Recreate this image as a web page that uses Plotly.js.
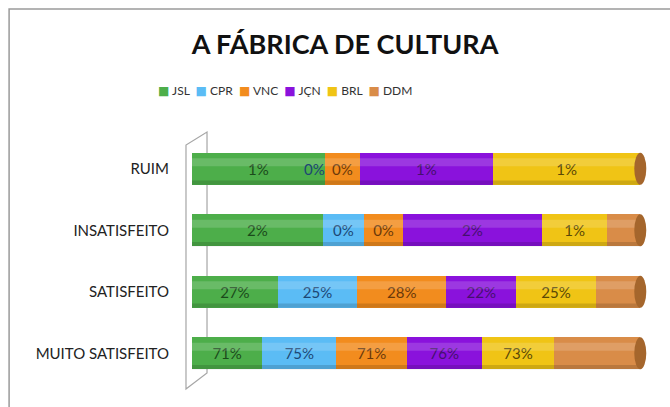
<!DOCTYPE html>
<html>
<head>
<meta charset="utf-8">
<script src="https://cdn.plot.ly/plotly-3.0.1.min.js"></script>
<style>
  html, body { margin: 0; padding: 0; background: #fff; }
  #chart { width: 670px; height: 407px; }
</style>
</head>
<body>
<div id="chart"></div>
<script>
// categories, bottom to top
const categories = ['MUITO SATISFEITO', 'SATISFEITO', 'INSATISFEITO', 'RUIM'];

// values (share of each school, %)
const JSL = [71, 27, 1.5, 0.9];
const CPR = [75, 25, 0.48, 0];
const VNC = [71, 28, 0.44, 0.24];
const JCN = [76, 22, 1.6, 0.9];
const BRL = [73, 25, 0.75, 1.0];
const DDM = [87, 14, 0.38, 0];

const seriesNames = ['JSL', 'CPR', 'VNC', 'JÇN', 'BRL', 'DDM'];
const seriesValues = [JSL, CPR, VNC, JCN, BRL, DDM];
const seriesColors = ['#4dae4a', '#5bbcf5', '#f28c1e', '#8a12dc', '#f0c415', '#d98c48'];
const labelColors = ['#1b4a1b', '#1c4674', '#6a380a', '#45106e', '#5a4806', '#5a3510'];
const showLabels = [true, true, true, true, true, false];

const fontFam = 'Lato, "Open Sans", sans-serif';

const traces = [];
seriesNames.forEach(function (name, s) {
    traces.push({
        type: 'bar',
        orientation: 'h',
        name: name,
        y: categories,
        x: seriesValues[s],
        text: seriesValues[s].map(v => showLabels[s] ? Math.round(v) + '%' : ''),
        textposition: 'inside',
        insidetextanchor: 'middle',
        constraintext: 'none',
        textfont: {family: fontFam, size: 15, color: labelColors[s]},
        marker: {color: seriesColors[s], line: {width: 0}},
        showlegend: false,
        hoverinfo: 'skip'
    });
});

// annotations for zero-width segments
const annotations = [];
categories.forEach(function (cat, c) {
    const total = seriesValues.reduce((a, arr) => a + arr[c], 0);
    let cum = 0;
    seriesValues.forEach(function (arr, s) {
        if (arr[c] === 0 && showLabels[s]) {
            annotations.push({
                x: cum / total * 100, y: cat, xref: 'x', yref: 'y',
                text: '0%', showarrow: false, xanchor: 'right', xshift: 2,
                font: {family: fontFam, size: 15, color: labelColors[s]}
            });
        }
        cum += arr[c];
    });
});

// legend row: coloured squares + series names
const legendText = seriesNames.map(function (name, s) {
    return '<span style="color:' + seriesColors[s] + ';font-family:DejaVu Sans;font-size:12px">■</span> ' + name;
}).join('&nbsp;&nbsp;');
annotations.push({
    xref: 'paper', yref: 'paper', x: -0.079, y: 1.195, xanchor: 'left', yanchor: 'middle',
    text: legendText, showarrow: false,
    font: {family: fontFam, size: 12, color: '#333'}
});

// shading to suggest cylinders, plus end caps
const shapes = [];
const half = 0.26;
categories.forEach(function (cat, c) {
    shapes.push({type: 'rect', xref: 'x', yref: 'y', x0: 0, x1: 100, y0: c + 0.04, y1: c + 0.17,
        fillcolor: 'rgba(255,255,255,0.16)', line: {width: 0}, layer: 'above'});
    shapes.push({type: 'rect', xref: 'x', yref: 'y', x0: 0, x1: 100, y0: c - half, y1: c - half + 0.07,
        fillcolor: 'rgba(0,0,0,0.14)', line: {width: 0}, layer: 'above'});
    shapes.push({type: 'circle', xref: 'x', yref: 'y', xsizemode: 'pixel', xanchor: 100, x0: -6, x1: 6,
        y0: c - half, y1: c + half, fillcolor: '#a5662c', line: {width: 0}, layer: 'above'});
});

// back wall (paper coords)
shapes.push({type: 'path', xref: 'paper', yref: 'paper',
    path: 'M -0.0132,0.9715 L -0.0132,-0.0203 L 0.033,0.0447 L 0.033,1.0244 Z',
    fillcolor: 'rgba(0,0,0,0)', line: {color: '#a6a6a6', width: 1.2}, layer: 'below'});
// outer frame
shapes.push({type: 'rect', xref: 'paper', yref: 'paper', x0: -0.402, x1: 1.1, y0: -0.15, y1: 1.524,
    fillcolor: 'rgba(0,0,0,0)', line: {color: '#9a9a9a', width: 1.5}, layer: 'below'});

const layout = {
    width: 670,
    height: 407,
    margin: {l: 192, r: 23, t: 138, b: 23},
    paper_bgcolor: '#ffffff',
    plot_bgcolor: 'rgba(0,0,0,0)',
    font: {family: fontFam, size: 15, color: '#222'},
    title: {
        text: '<b>A FÁBRICA DE CULTURA</b>',
        font: {family: fontFam, size: 27, color: '#111'},
        x: 0.515, xanchor: 'center',
        y: 1 - 45 / 407, yref: 'container', yanchor: 'middle'
    },
    barmode: 'stack',
    barnorm: 'percent',
    bargap: 0.48,
    xaxis: {range: [0, 101.5], showticklabels: false, showgrid: false, zeroline: false, showline: false, fixedrange: true},
    yaxis: {
        categoryorder: 'array', categoryarray: categories,
        showgrid: false, zeroline: false, showline: false, ticks: '',
        ticklabelstandoff: 22,
        tickfont: {family: fontFam, size: 15, color: '#222'}
    },
    showlegend: false,
    annotations: annotations,
    shapes: shapes
};

Plotly.newPlot('chart', traces, layout, {displayModeBar: false, staticPlot: true});
</script>
</body>
</html>
